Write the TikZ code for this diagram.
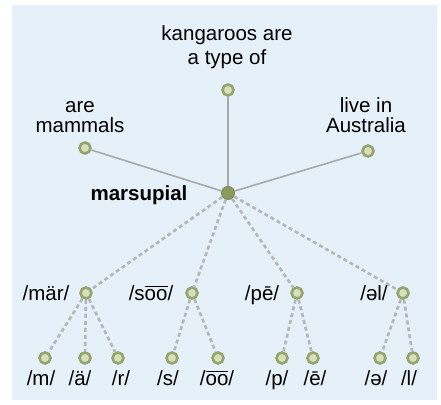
\documentclass[tikz,border=0pt]{standalone}
\usepackage{fontspec}
\setmainfont{Liberation Sans}
\definecolor{bgblue}{RGB}{229,240,248}
\definecolor{edgegray}{RGB}{165,170,172}
\definecolor{dashgray}{RGB}{178,183,185}
\definecolor{ring}{RGB}{150,165,112}
\definecolor{dotfill}{RGB}{214,224,186}
\definecolor{hubfill}{RGB}{138,154,92}
\newcommand\oobar{\leavevmode\vbox{\hrule height 1.3pt\kern 1.6pt\hbox{oo}}}
\begin{document}
\begin{tikzpicture}[x=1pt,y=-1pt,
  lbl/.style={font=\fontsize{20.5}{22}\selectfont, inner sep=0pt, anchor=base, align=center},
  dot/.style={circle, minimum size=11pt, inner sep=0pt, draw=ring, line width=2.6pt, fill=dotfill},
  hub/.style={circle, minimum size=13pt, inner sep=0pt, fill=hubfill, draw=ring!85!black, line width=1pt},
  solidedge/.style={draw=edgegray, line width=1.6pt},
  dashededge/.style={draw=dashgray, line width=2.6pt, dash pattern=on 4pt off 3pt}]
\useasboundingbox (0,0) rectangle (441,404);
\fill[bgblue] (12,5) rectangle (437,400);

% nodes
\node[hub] (c) at (228,193) {};
\node[dot] (top) at (228,90) {};
\node[dot] (lft) at (85,148) {};
\node[dot] (rgt) at (368,151) {};
\node[dot] (mar) at (86,293) {};
\node[dot] (soo) at (192,293) {};
\node[dot] (pe) at (297,293) {};
\node[dot] (el) at (403,293) {};
\node[dot] (m) at (45,358) {};
\node[dot] (a) at (85,358) {};
\node[dot] (r) at (118,358) {};
\node[dot] (s) at (172,358) {};
\node[dot] (oo) at (218,358) {};
\node[dot] (p) at (282,358) {};
\node[dot] (e) at (313,358) {};
\node[dot] (schwa) at (380,358) {};
\node[dot] (l) at (413,358) {};

% edges
\draw[solidedge] (c) -- (top);
\draw[solidedge] (c) -- (lft);
\draw[solidedge] (c) -- (rgt);
\foreach \t in {mar,soo,pe,el} \draw[dashededge] (c) -- (\t);
\foreach \t in {m,a,r} \draw[dashededge] (mar) -- (\t);
\foreach \t in {s,oo} \draw[dashededge] (soo) -- (\t);
\foreach \t in {p,e} \draw[dashededge] (pe) -- (\t);
\foreach \t in {schwa,l} \draw[dashededge] (el) -- (\t);

% labels
\node[lbl, font=\fontsize{20.5}{24}\selectfont] (ttop) at (227,64) {kangaroos are\\a type of};
\node[lbl, font=\fontsize{20.5}{20}\selectfont] (tlft) at (80,132) {are\\mammals};
\node[lbl, font=\fontsize{20.5}{20}\selectfont] (trgt) at (366,132) {live in\\Australia};
\node[lbl, font=\fontsize{20.5}{22}\selectfont\bfseries] (tc) at (139,200) {marsupial};
\node[lbl] (tmar) at (46,300) {/mär/};
\node[lbl] (tsoo) at (151,300) {/s\oobar/};
\node[lbl] (tpe) at (262,300) {/pē/};
\node[lbl] (tel) at (374,300) {/əl/};
\node[lbl] (tm) at (41,385) {/m/};
\node[lbl] (ta) at (80,385) {/ä/};
\node[lbl] (tr) at (121,385) {/r/};
\node[lbl] (ts) at (168,385) {/s/};
\node[lbl] (too) at (217,385) {/\oobar/};
\node[lbl] (tp) at (277,385) {/p/};
\node[lbl] (te) at (315,385) {/ē/};
\node[lbl] (tschwa) at (376,385) {/ə/};
\node[lbl] (tl) at (409,385) {/l/};
\end{tikzpicture}
\end{document}
